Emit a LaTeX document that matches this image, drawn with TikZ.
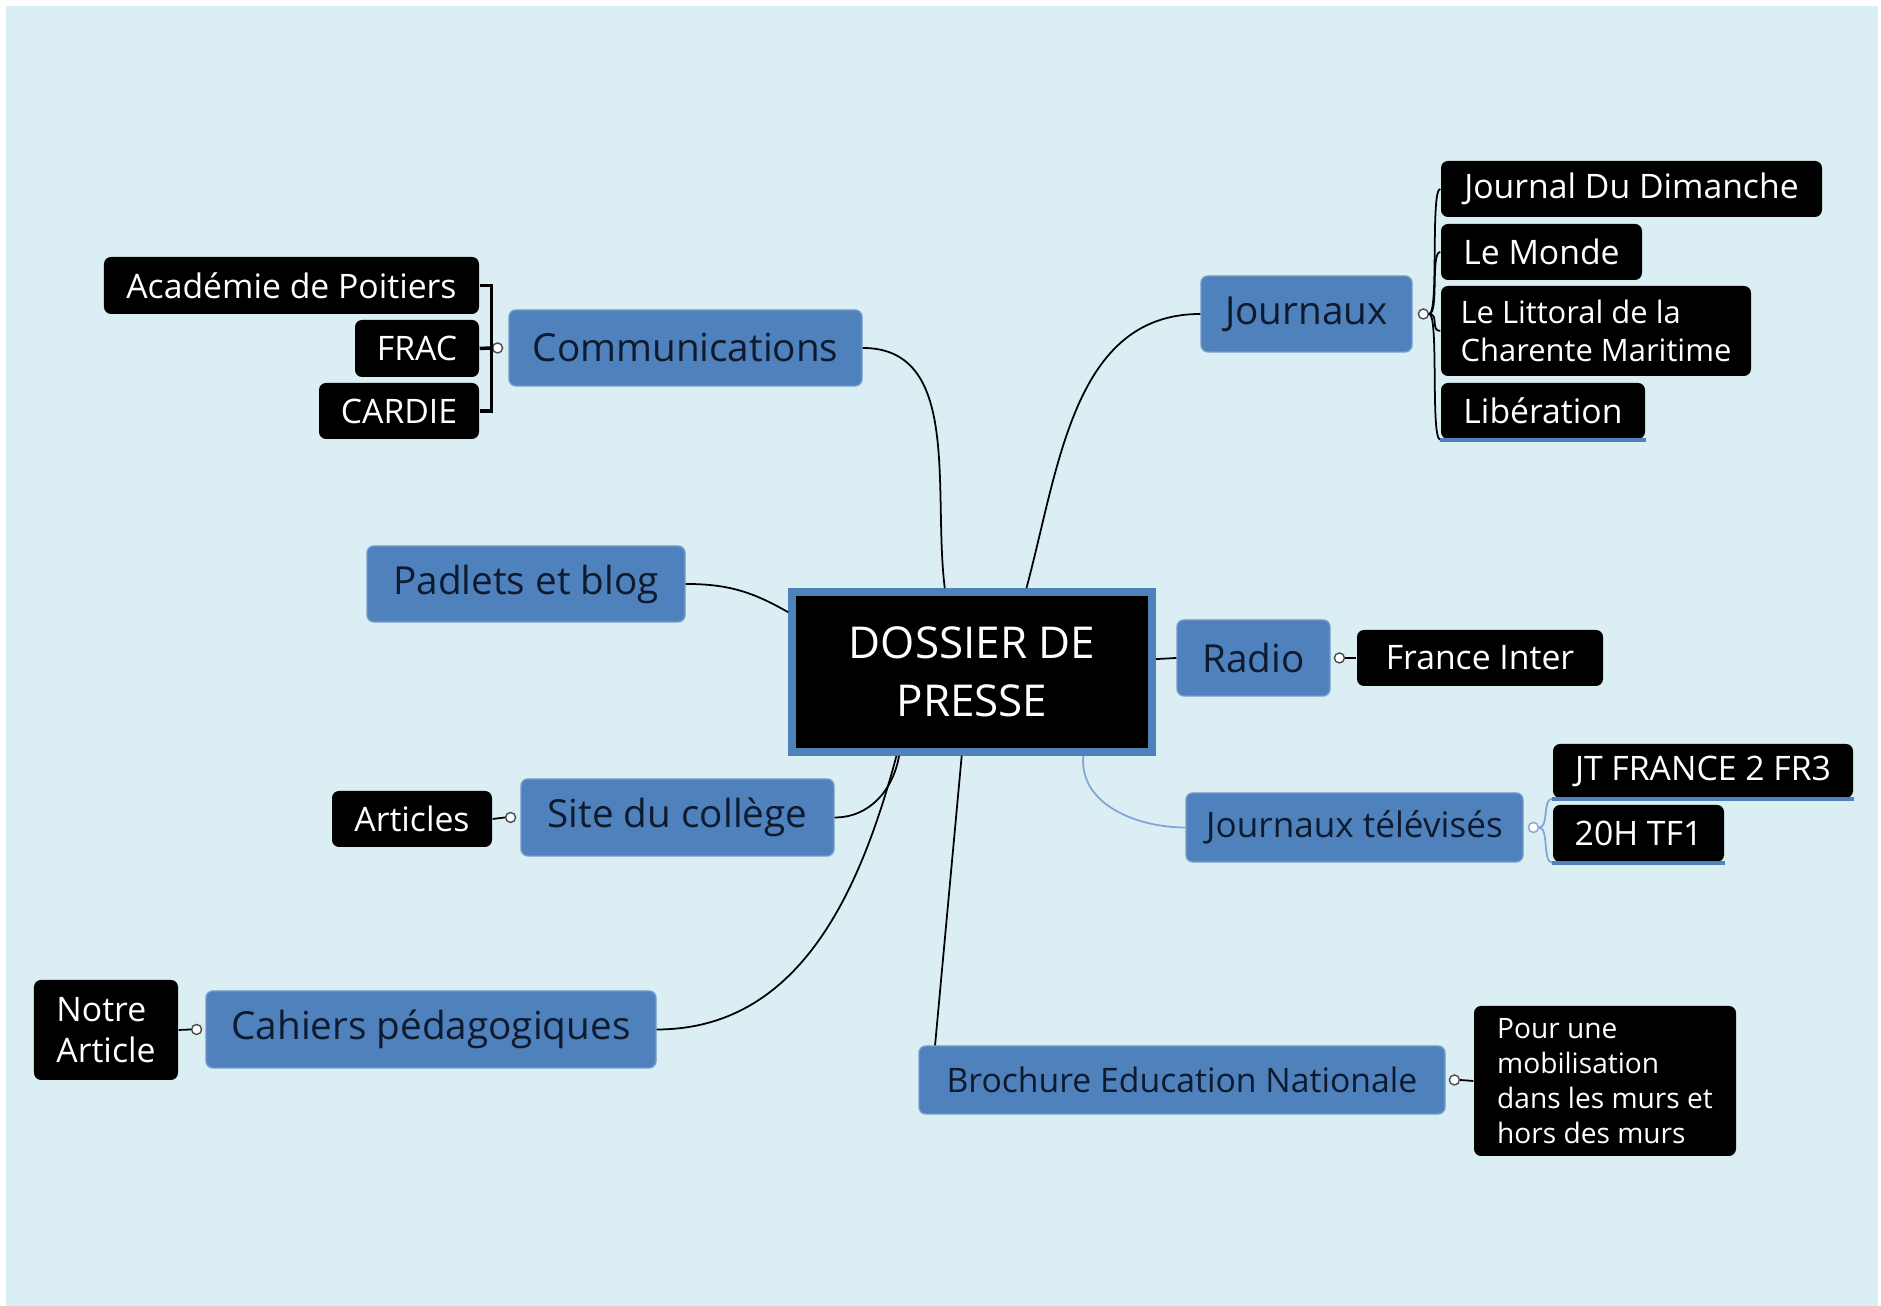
\documentclass[tikz,border=0pt]{standalone}
\usepackage{fontspec}
\setmainfont{Open Sans}
\usetikzlibrary{positioning}
\definecolor{fond}{HTML}{DBEEF3}
\definecolor{bleu}{HTML}{4F81BD}
\definecolor{bleuclair}{HTML}{7FA6D6}
\definecolor{encre}{HTML}{0E1A2E}
\tikzset{
  sujet/.style={draw=bleu!80!white, fill=bleu, rounded corners=2pt, text=encre, inner sep=2pt, font=\fontsize{11}{13}\selectfont},
  feuille/.style={fill=black, rounded corners=2pt, text=white, inner sep=2pt, font=\fontsize{9.6}{11.5}\selectfont},
  rond/.style={circle, draw=gray!60!black, fill=white, inner sep=0pt, minimum size=0.1cm, line width=0.4pt},
  lien/.style={draw=black, line width=0.5pt},
  trait/.style={line width=1.1pt, bleu}
}
\begin{document}
\begin{tikzpicture}
        \useasboundingbox (0,0) rectangle (18.81,13.06);
        \fill[white] (0,0) rectangle (18.81,13.06);
        \fill[fond] (0.06,0) rectangle (18.78,13.0);

        \node[fill=black, draw=bleu, line width=2.2pt, minimum width=3.60cm, minimum height=1.60cm, text=white, font=\fontsize{12.5}{16.5}\selectfont, align=center] (dossier) at (9.72,6.34) {DOSSIER DE\\PRESSE};

        \node[sujet, minimum width=3.53cm, minimum height=0.76cm] (comm) at (6.855,9.58) {Communications};
        \node[feuille, minimum width=3.75cm, minimum height=0.57cm] (acad) at (2.915,10.205) {Académie de Poitiers};
        \node[feuille, minimum width=1.24cm, minimum height=0.57cm] (frac) at (4.17,9.575) {FRAC};
        \node[feuille, minimum width=1.60cm, minimum height=0.56cm] (cardie) at (3.99,8.95) {CARDIE};

        \node[sujet, minimum width=3.18cm, minimum height=0.76cm] (padlets) at (5.26,7.22) {Padlets et blog};

        \node[sujet, minimum width=3.13cm, minimum height=0.77cm] (site) at (6.775,4.885) {Site du collège};
        \node[feuille, minimum width=1.60cm, minimum height=0.56cm] (articles) at (4.12,4.87) {Articles};

        \node[sujet, minimum width=4.50cm, minimum height=0.77cm] (cahiers) at (4.31,2.765) {Cahiers pédagogiques};
        \node[feuille, minimum width=1.44cm, minimum height=1.00cm, align=left] (notre) at (1.06,2.76) {Notre\\Article};

        \node[sujet, minimum width=2.11cm, minimum height=0.76cm] (journaux) at (13.065,9.92) {Journaux};
        \node[feuille, minimum width=3.81cm, minimum height=0.56cm] (jdd) at (16.315,11.17) {Journal Du Dimanche};
        \node[feuille, minimum width=2.01cm, minimum height=0.56cm] (monde) at (15.415,10.54) {Le Monde};
        \node[feuille, minimum width=3.10cm, minimum height=0.90cm, align=left, font=\fontsize{8.8}{11}\selectfont] (littoral) at (15.96,9.75) {Le Littoral de la\\Charente Maritime};
        \node[feuille, minimum width=2.04cm, minimum height=0.56cm] (liberation) at (15.43,8.95) {Libération};

        \node[sujet, minimum width=1.53cm, minimum height=0.76cm] (radio) at (12.535,6.48) {Radio};
        \node[feuille, minimum width=2.46cm, minimum height=0.56cm] (inter) at (14.80,6.48) {France Inter};

        \node[sujet, minimum width=3.37cm, minimum height=0.69cm, font=\fontsize{10}{12}\selectfont] (jtv) at (13.545,4.785) {Journaux télévisés};
        \node[feuille, minimum width=3.00cm, minimum height=0.54cm] (jtfr) at (17.03,5.35) {JT FRANCE 2 FR3};
        \node[feuille, minimum width=1.71cm, minimum height=0.57cm] (tf1) at (16.385,4.725) {20H TF1};

        \node[sujet, minimum width=5.26cm, minimum height=0.68cm, font=\fontsize{9.6}{12}\selectfont] (brochure) at (11.82,2.26) {Brochure Education Nationale};
        \node[feuille, minimum width=2.62cm, minimum height=1.50cm, align=left, font=\fontsize{8}{9.9}\selectfont] (mobil) at (16.05,2.25) {Pour une\\mobilisation\\dans les murs et\\hors des murs};

        % branches principales
        \draw[lien] (dossier.108) to[out=97,in=0] (comm.east);
        \draw[lien] (dossier.162) to[out=150,in=0] (padlets.east);
        \draw[lien] (dossier.229) to[out=-100,in=0] (site.east);
        \draw[lien] (dossier.228) to[out=-105,in=0] (cahiers.east);
        \draw[lien] (dossier.263) -- (brochure.172);
        \draw[lien] (dossier.57) to[out=75,in=180] (journaux.west);
        \draw[lien] (dossier.4) -- (radio.west);
        \draw[lien, bleuclair] (dossier.323) to[out=-95,in=180] (jtv.west);

        \node[rond, left=0.05cm of comm] (commk) {};
        \node[rond, right=0.05cm of journaux] (jk) {};
        \node[rond, right=0.03cm of radio] (rk) {};
        \node[rond, right=0.04cm of jtv, draw=bleuclair] (jtvk) {};
        \node[rond, left=0.04cm of site] (sk) {};
        \node[rond, left=0.03cm of cahiers] (ck) {};
        \node[rond, right=0.03cm of brochure] (bk) {};

        \draw[lien, line width=1pt] (acad.east) -- ++(0.12,0) |- (cardie.east);
        \draw[lien, line width=1pt] (frac.east) -- (commk.west);
        \draw[lien] (rk.east) -- (inter.west);
        \draw[lien] (sk.west) -- (articles.east);
        \draw[lien] (ck.west) -- (notre.east);
        \draw[lien] (bk.east) -- (mobil.west);

        \foreach \f in {jdd,monde,littoral}
          \draw[lien] (jk.east) .. controls +(0.1,0) and +(-0.1,0) .. (\f.west);
        \draw[lien] (jk.east) .. controls +(0.1,0) and +(-0.1,0) .. (liberation.south west);
        \draw[lien, bleuclair] (jtvk.east) .. controls +(0.1,0) and +(-0.1,0) .. (jtfr.south west);
        \draw[lien, bleuclair] (jtvk.east) .. controls +(0.1,0) and +(-0.1,0) .. (tf1.south west);

        \draw[trait] (liberation.south west) -- (liberation.south east);
        \draw[trait] (jtfr.south west) -- (jtfr.south east);
        \draw[trait] (tf1.south west) -- (tf1.south east);
\end{tikzpicture}
\end{document}
